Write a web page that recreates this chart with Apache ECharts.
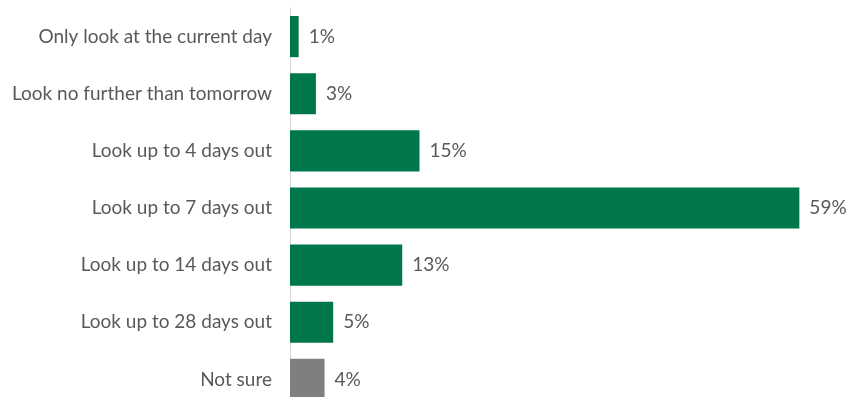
<!DOCTYPE html>
<html>
<head>
<meta charset="utf-8">
<script src="https://cdn.jsdelivr.net/npm/echarts@6/dist/echarts.min.js"></script>
<style>
  html, body { margin: 0; padding: 0; background: #ffffff; }
  #chart { width: 846px; height: 397px; }
</style>
</head>
<body>
<div id="chart"></div>
<script>
// How far ahead people look at the forecast
const categories = [
  'Only look at the current day',
  'Look no further than tomorrow',
  'Look up to 4 days out',
  'Look up to 7 days out',
  'Look up to 14 days out',
  'Look up to 28 days out',
  'Not sure'
];
const shares = [1, 3, 15, 59, 13, 5, 4];
const barColors = ['#00774A', '#00774A', '#00774A', '#00774A', '#00774A', '#00774A', '#7F7F7F'];

const chart = echarts.init(document.getElementById('chart'), null, { renderer: 'canvas' });

chart.setOption({
  animation: false,
  backgroundColor: '#ffffff',
  grid: { left: 290, top: 8, width: 518, height: 400, outerBoundsMode: 'none', containLabel: false },
  xAxis: {
    type: 'value',
    min: 0,
    max: 60,
    show: false
  },
  yAxis: {
    type: 'category',
    data: categories,
    inverse: true,
    axisLine: { show: true, lineStyle: { color: '#D9D9D9', width: 1 } },
    axisTick: { show: false },
    axisLabel: {
      color: '#595959',
      fontFamily: 'Lato',
      fontSize: 19,
      margin: 18
    }
  },
  series: [{
    type: 'bar',
    data: shares.map((v, i) => ({ value: v, itemStyle: { color: barColors[i] } })),
    barCategoryGap: '28%',
    label: {
      show: true,
      position: 'right',
      distance: 10,
      color: '#595959',
      fontFamily: 'Lato',
      fontSize: 19,
      formatter: p => p.value + '%'
    }
  }]
});
</script>
</body>
</html>
